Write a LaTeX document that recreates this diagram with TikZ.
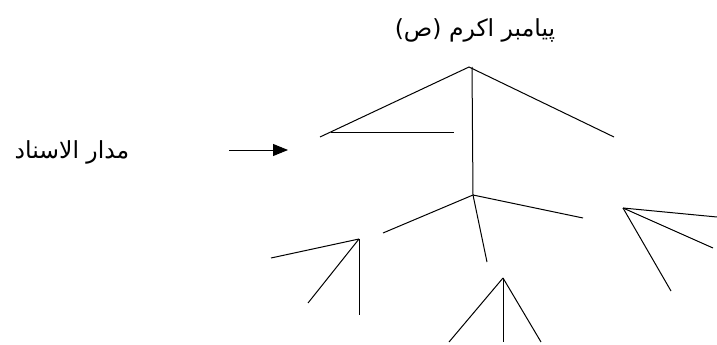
\documentclass[tikz,border=0pt]{standalone}
\usepackage{fontspec}
\usepackage{tikz}
\usetikzlibrary{arrows.meta}
\TeXXeTstate=1
\newfontfamily\arabicfont[Script=Arabic]{DejaVu Sans}

\begin{document}
\begin{tikzpicture}[
  x=1pt, y=-1pt,
  branch/.style={line width=1pt},
  arrow/.style={-{Triangle[length=15pt, width=12pt]}, line width=1pt},
  arabtext/.style={font=\arabicfont\fontsize{23.5}{28}\selectfont, inner sep=0pt}
]
\useasboundingbox (0,0) rectangle (717,345);
% texts
\node[arabtext] (prophet) at (475,30) {\beginR پیامبر اکرم (ص)\endR};
\node[arabtext] (madar) at (72,152) {\beginR مدار الاسناد\endR};
% upper tree
\coordinate (top) at (469,67);
\coordinate (topleft) at (320,137);
\coordinate (topright) at (614,137);
\coordinate (barleft) at (331,132);
\coordinate (barright) at (454,132);
\coordinate (stem) at (473,195);
\coordinate (midleft) at (383,233);
\coordinate (midright) at (583,218);
\coordinate (middown) at (487,262);
\coordinate (arrowtail) at (229,150);
\coordinate (arrowhead) at (288,150);
\draw[branch] (topleft) -- (top) -- (topright);
\draw[branch] (barleft) -- (barright);
\draw[branch] (472,67) -- (stem);
\draw[branch] (midleft) -- (stem) -- (midright);
\draw[branch] (stem) -- (middown);
\draw[arrow] (arrowtail) -- (arrowhead);
% left fan
\coordinate (fanleft) at (359,239);
\foreach \p in {(271,258),(308,303),(359,315)}
  \draw[branch] (fanleft) -- \p;
% bottom fan
\coordinate (fandown) at (503,278);
\foreach \p in {(449,342),(503,342),(541,342)}
  \draw[branch] (fandown) -- \p;
% right fan
\coordinate (fanright) at (623,208);
\foreach \p in {(717,217),(713,248),(671,291)}
  \draw[branch] (fanright) -- \p;
\end{tikzpicture}
\end{document}
